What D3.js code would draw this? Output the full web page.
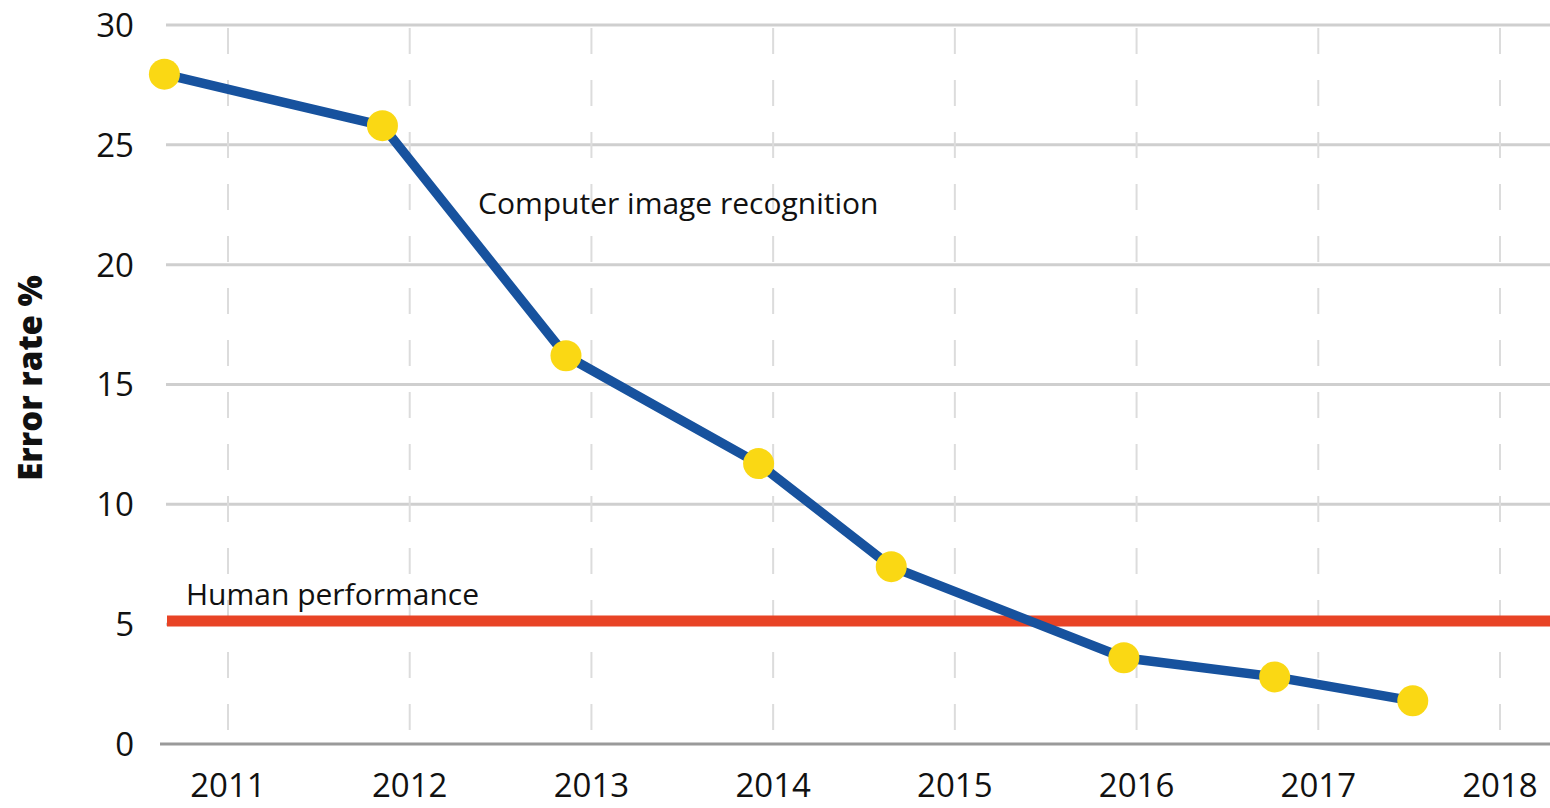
<!DOCTYPE html>
<html>
<head>
<meta charset="utf-8">
<script src="https://cdn.jsdelivr.net/npm/d3@7"></script>
<style>
  body { margin: 0; background: #fff; }
  text { font-family: "Open Sans", "Lato", sans-serif; fill: #111; }
</style>
</head>
<body>
<div id="chart-area"></div>
<script>
const years = [2010.65, 2011.85, 2012.86, 2013.92, 2014.65, 2015.93, 2016.76, 2017.52]
const errorRates = [27.95, 25.8, 16.2, 11.7, 7.4, 3.6, 2.8, 1.8]
const humanRate = 5.13
const yearTicks = [2011, 2012, 2013, 2014, 2015, 2016, 2017, 2018]
const rateTicks = [0, 5, 10, 15, 20, 25, 30]

const WIDTH = 1550
const HEIGHT = 808

const svg = d3.select("#chart-area").append("svg")
  .attr("width", WIDTH)
  .attr("height", HEIGHT)

const x = d3.scaleLinear().domain([2011, 2018]).range([228, 1500])
const y = d3.scaleLinear().domain([0, 30]).range([744, 25])

// horizontal grid
svg.append("g")
  .selectAll("line")
  .data(rateTicks.filter(d => d > 0))
  .enter().append("line")
    .attr("x1", 166).attr("x2", WIDTH)
    .attr("y1", d => y(d)).attr("y2", d => y(d))
    .attr("stroke", "#cfcfcf")
    .attr("stroke-width", 3)

// vertical dashed grid
svg.append("g")
  .selectAll("line")
  .data(yearTicks)
  .enter().append("line")
    .attr("x1", d => x(d)).attr("x2", d => x(d))
    .attr("y1", 28).attr("y2", 734)
    .attr("stroke", "#dcdcdc")
    .attr("stroke-width", 2)
    .attr("stroke-dasharray", "26,26")

// baseline
svg.append("line")
  .attr("x1", 160).attr("x2", WIDTH)
  .attr("y1", y(0)).attr("y2", y(0))
  .attr("stroke", "#9a9a9a")
  .attr("stroke-width", 3)

// y tick labels
svg.append("g")
  .selectAll("text")
  .data(rateTicks)
  .enter().append("text")
    .attr("x", 134)
    .attr("y", d => y(d))
    .attr("dy", "0.36em")
    .attr("text-anchor", "end")
    .style("font-size", "33px")
    .text(d => d)

// x tick labels
svg.append("g")
  .selectAll("text")
  .data(yearTicks)
  .enter().append("text")
    .attr("x", d => x(d))
    .attr("y", 797)
    .attr("text-anchor", "middle")
    .style("font-size", "33px")
    .text(d => d)

// Y label
svg.append("text")
  .attr("transform", "translate(42, 378) rotate(-90)")
  .attr("text-anchor", "middle")
  .style("font-size", "33px")
  .style("font-weight", "800")
  .text("Error rate %")

// human performance
svg.append("line")
  .attr("x1", 167).attr("x2", WIDTH)
  .attr("y1", y(humanRate)).attr("y2", y(humanRate))
  .attr("stroke", "#e84325")
  .attr("stroke-width", 11)

svg.append("text")
  .attr("x", 186)
  .attr("y", 605)
  .style("font-size", "30px")
  .text("Human performance")

// computer line
const data = years.map((d, i) => ({ year: d, rate: errorRates[i] }))

const line = d3.line()
  .x(d => x(d.year))
  .y(d => y(d.rate))

svg.append("path")
  .datum(data)
  .attr("d", line)
  .attr("fill", "none")
  .attr("stroke", "#17529e")
  .attr("stroke-width", 9.5)
  .attr("stroke-linejoin", "round")

svg.append("g")
  .selectAll("circle")
  .data(data)
  .enter().append("circle")
    .attr("cx", d => x(d.year))
    .attr("cy", d => y(d.rate))
    .attr("r", 15.5)
    .attr("fill", "#fad814")

svg.append("text")
  .attr("x", 478)
  .attr("y", 214)
  .style("font-size", "30px")
  .text("Computer image recognition")
</script>
</body>
</html>
